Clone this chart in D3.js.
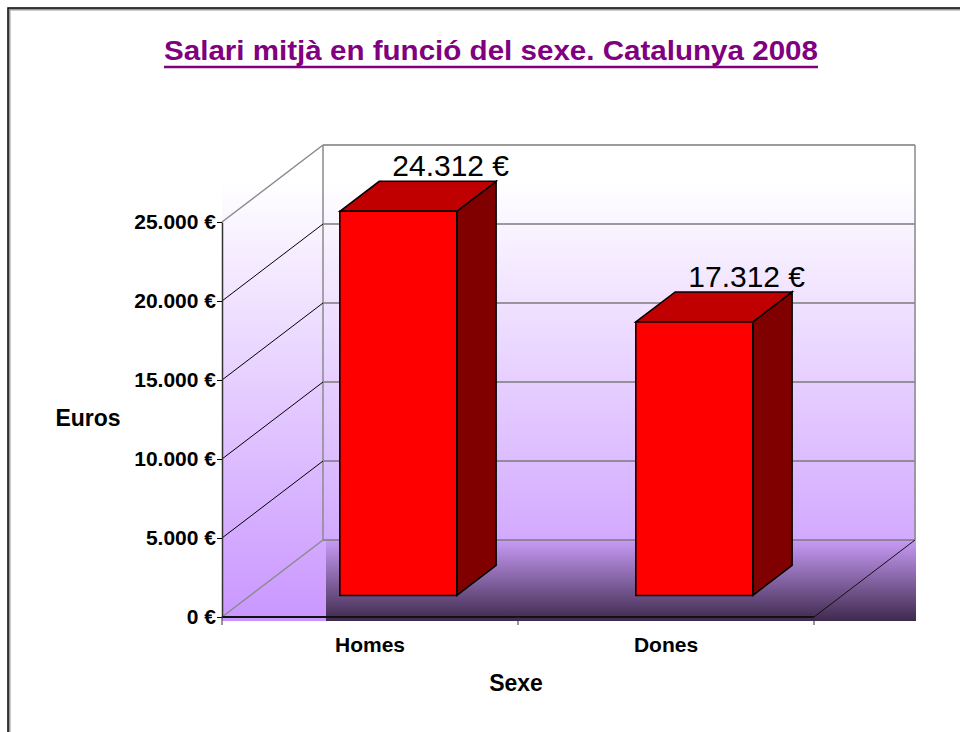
<!DOCTYPE html>
<html>
<head>
<meta charset="utf-8">
<script src="https://cdn.jsdelivr.net/npm/d3@7"></script>
<style>
  body { margin: 0; background: #fff; }
  text { font-family: Arial, "Liberation Sans", sans-serif; }
</style>
</head>
<body>
<div id="chart"></div>
<script>
var width = 960,
    height = 732

// data
var categories = ["Homes", "Dones"]
var salaries = [24312, 17312]
var yTicks = [0, 5000, 10000, 15000, 20000, 25000]

// 3d depth of the plot box (front plane -> back wall)
var DX = 101, DY = -77
// bars sit between these depth fractions
var d0 = 0.28, d1 = 0.67

var svg = d3.select("#chart")
  .append("svg")
    .attr("width", width)
    .attr("height", height)

var locale = d3.formatLocale({decimal: ",", thousands: ".", grouping: [3], currency: ["", " €"]})
var fmt = function(v) { return locale.format(",.0f")(v) + " €" }

var y = d3.scaleLinear().domain([0, 25000]).range([617, 222])
var x = d3.scaleBand().domain(categories).range([222, 814])
  .paddingInner(0.605).paddingOuter(0.3025)

function pt(px, py, d) { return [px + d * DX, py + d * DY] }

// gradients
var defs = svg.append("defs")
var bg = defs.append("linearGradient").attr("id", "bg")
  .attr("gradientUnits", "userSpaceOnUse")
  .attr("x1", 0).attr("y1", 180).attr("x2", 0).attr("y2", 621)
bg.append("stop").attr("offset", 0).attr("stop-color", "#ffffff")
bg.append("stop").attr("offset", 1).attr("stop-color", "#c996ff")

var fl = defs.append("linearGradient").attr("id", "floor")
  .attr("x1", 0).attr("y1", 0).attr("x2", 0).attr("y2", 1)
fl.append("stop").attr("offset", 0).attr("stop-color", "#c89bf7")
fl.append("stop").attr("offset", 1).attr("stop-color", "#3f2a4d")

// outer frame
svg.append("path")
  .attr("d", "M9,732 V9 H960")
  .attr("fill", "none").attr("stroke", "#999").attr("stroke-width", 3)
svg.append("path")
  .attr("d", "M8,732 V8 H960")
  .attr("fill", "none").attr("stroke", "#111").attr("stroke-width", 1.5)

// title
svg.append("text")
  .attr("x", 491).attr("y", 60)
  .attr("text-anchor", "middle")
  .attr("font-size", "28px").attr("font-weight", "bold")
  .attr("fill", "#800080")
  .attr("textLength", 654).attr("lengthAdjust", "spacingAndGlyphs")
  .text("Salari mitjà en funció del sexe. Catalunya 2008")
svg.append("line")
  .attr("x1", 164).attr("x2", 818).attr("y1", 67).attr("y2", 67)
  .attr("stroke", "#800080").attr("stroke-width", 2.5)

// plot background
var x0 = x.range()[0], x1 = x.range()[1]
var yb = y(0), yt = y(25000)
svg.append("rect")
  .attr("x", x0).attr("y", 180)
  .attr("width", x1 + DX + 1 - x0).attr("height", yb + 4 - 180)
  .attr("fill", "url(#bg)")

// floor
svg.append("rect")
  .attr("x", x0 + DX + 3).attr("y", yb + DY)
  .attr("width", x1 - x0 - 2).attr("height", -DY + 4)
  .attr("fill", "url(#floor)")

// back wall gridlines
svg.append("g").selectAll("line")
  .data(yTicks)
  .join("line")
    .attr("x1", x0 + DX).attr("x2", x1 + DX)
    .attr("y1", function(d) { return y(d) + DY })
    .attr("y2", function(d) { return y(d) + DY })
    .attr("stroke", "#7a7a7a").attr("stroke-width", 1.5)

// back wall verticals
svg.append("g").selectAll("line")
  .data([x0 + DX, x1 + DX])
  .join("line")
    .attr("x1", function(d) { return d }).attr("x2", function(d) { return d })
    .attr("y1", yt + DY).attr("y2", yb + DY)
    .attr("stroke", "#8a8a8a").attr("stroke-width", 1.5)

// side wall gridlines
svg.append("g").selectAll("line")
  .data(yTicks)
  .join("line")
    .attr("x1", x0).attr("x2", x0 + DX)
    .attr("y1", function(d) { return y(d) })
    .attr("y2", function(d) { return y(d) + DY })
    .attr("stroke", function(d) { return (d == 0 || d == 25000) ? "#8a8a8a" : "#000" })
    .attr("stroke-width", function(d) { return (d == 0 || d == 25000) ? 1.5 : 1 })

// floor right diagonal
svg.append("line")
  .attr("x1", x1).attr("y1", yb).attr("x2", x1 + DX).attr("y2", yb + DY)
  .attr("stroke", "#111").attr("stroke-width", 1)

// y axis
var yAxis = svg.append("g")
  .attr("transform", "translate(" + x0 + ",0)")
  .call(d3.axisLeft(y).tickValues(yTicks).tickFormat(fmt).tickSize(5).tickSizeOuter(0).tickPadding(1))
yAxis.select(".domain").attr("stroke", "#333").attr("stroke-width", 1.5)
yAxis.selectAll(".tick line").attr("stroke", "#000")
yAxis.selectAll("text")
  .attr("font-size", "21px").attr("font-weight", "bold").attr("fill", "#000")
  .attr("font-family", "Arial, 'Liberation Sans', sans-serif")

// x axis line + separator ticks
svg.append("line")
  .attr("x1", x0).attr("x2", x1).attr("y1", yb).attr("y2", yb)
  .attr("stroke", "#111").attr("stroke-width", 2)
var seps = [x0]
categories.forEach(function(c) { seps.push(x(c) + x.bandwidth() + x.step() * x.paddingInner() / 2) })
seps[seps.length - 1] = x1
svg.append("g").selectAll("line")
  .data(seps)
  .join("line")
    .attr("x1", function(d) { return d }).attr("x2", function(d) { return d })
    .attr("y1", yb).attr("y2", yb + 8)
    .attr("stroke", "#333").attr("stroke-width", 1)

svg.append("g").selectAll("text")
  .data(categories)
  .join("text")
    .attr("x", function(d) { return x(d) + x.bandwidth() / 2 })
    .attr("y", 652)
    .attr("text-anchor", "middle")
    .attr("font-size", "21px").attr("font-weight", "bold")
    .text(function(d) { return d })

// axis titles
svg.append("text")
  .attr("x", 516).attr("y", 691)
  .attr("text-anchor", "middle")
  .attr("font-size", "23px").attr("font-weight", "bold")
  .text("Sexe")
svg.append("text")
  .attr("x", 88).attr("y", 426)
  .attr("text-anchor", "middle")
  .attr("font-size", "23px").attr("font-weight", "bold")
  .text("Euros")

// bars
var bars = categories.map(function(c, i) { return {cat: c, value: salaries[i]} })

function faces(d) {
  var a = x(d.cat), b = a + x.bandwidth(), top = y(d.value), bot = y(0)
  return {
    front: [pt(a, top, d0), pt(b, top, d0), pt(b, bot, d0), pt(a, bot, d0)],
    top: [pt(a, top, d0), pt(a, top, d1), pt(b, top, d1), pt(b, top, d0)],
    side: [pt(b, top, d0), pt(b, top, d1), pt(b, bot, d1), pt(b, bot, d0)]
  }
}
var line = d3.line()

var g = svg.append("g").selectAll("g")
  .data(bars)
  .join("g")

g.append("path")
  .attr("d", function(d) { return line(faces(d).side) + "Z" })
  .attr("fill", "#800000").attr("stroke", "#000").attr("stroke-width", 1.5)
g.append("path")
  .attr("d", function(d) { return line(faces(d).top) + "Z" })
  .attr("fill", "#c00000").attr("stroke", "#000").attr("stroke-width", 1.5)
g.append("path")
  .attr("d", function(d) { return line(faces(d).front) + "Z" })
  .attr("fill", "#ff0000").attr("stroke", "#000").attr("stroke-width", 1.5)

// value labels
g.append("text")
  .attr("x", function(d) { return x(d.cat) + x.bandwidth() / 2 + d1 * DX + 13 })
  .attr("y", function(d) { return y(d.value) + d1 * DY - 5 })
  .attr("text-anchor", "middle")
  .attr("font-size", "30px")
  .attr("fill", "#000")
  .text(function(d) { return fmt(d.value) })
</script>
</body>
</html>
